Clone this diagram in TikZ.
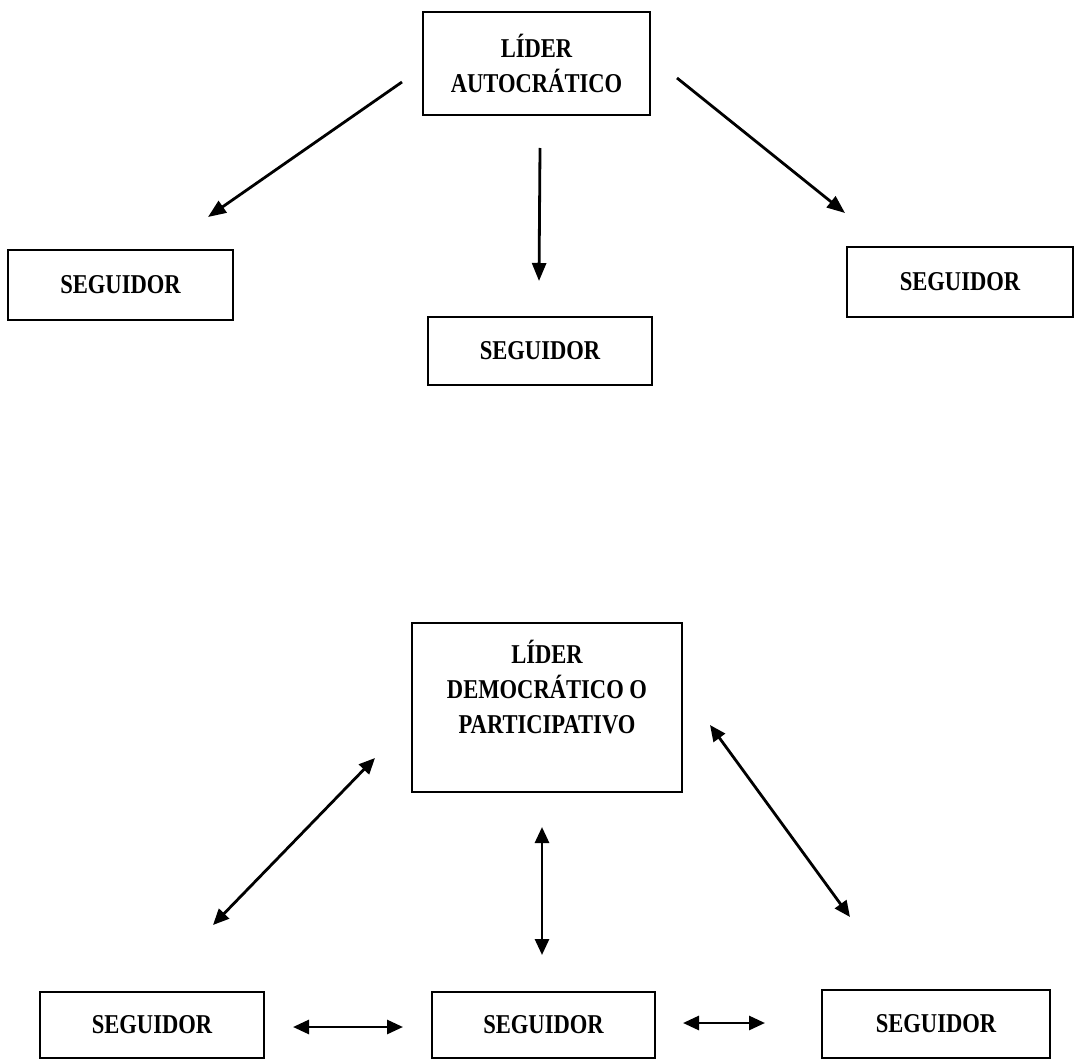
\documentclass[tikz,border=0pt]{standalone}
\usepackage{fontspec}
\newfontfamily\dfont{Liberation Serif}[FakeStretch=0.83]
\usetikzlibrary{arrows.meta}
\tikzset{
  box/.style={draw=black, line width=1pt, fill=white, inner sep=0pt, align=center,
    font=\dfont\bfseries\fontsize{13.6}{17.5}\selectfont},
  conn/.style={line width=1.4pt, -{Triangle[length=9pt,width=7pt]}},
  dconn/.style={line width=1.4pt, {Triangle[length=8pt,width=7pt]}-{Triangle[length=8pt,width=7pt]}},
  txt/.style={inner sep=0pt, align=center, font=\dfont\bfseries\fontsize{13.6}{17.5}\selectfont}
}
\begin{document}
\begin{tikzpicture}[x=0.5pt,y=-0.5pt]
\useasboundingbox (0,0) rectangle (1075,1059);
% top group
\node[box, minimum width=113.5pt, minimum height=51.5pt] (aut) at (536.5,63.5) {LÍDER\\AUTOCRÁTICO};
\node[box, minimum width=112.5pt, minimum height=35pt] (s1) at (120.5,285) {SEGUIDOR};
\node[box, minimum width=112pt, minimum height=34pt] (s2) at (540,351) {SEGUIDOR};
\node[box, minimum width=113pt, minimum height=35pt] (s3) at (960,282) {SEGUIDOR};
\coordinate (a1) at (402,82);  \coordinate (e1) at (208,217);
\coordinate (a2) at (540,148); \coordinate (e2) at (539,281);
\coordinate (a3) at (677,78);  \coordinate (e3) at (845,213);
\draw[conn] (a1) -- (e1);
\draw[conn] (a2) -- (e2);
\draw[conn] (a3) -- (e3);
% bottom group
\node[box, minimum width=135pt, minimum height=84.5pt] (dem) at (547,707.5) {};
\node[txt, anchor=north] (demt) at (547,640) {LÍDER\\DEMOCRÁTICO O\\PARTICIPATIVO};
\node[box, minimum width=112pt, minimum height=33pt] (b1) at (152,1025) {SEGUIDOR};
\node[box, minimum width=111.5pt, minimum height=33pt] (b2) at (543.5,1025) {SEGUIDOR};
\node[box, minimum width=114pt, minimum height=34pt] (b3) at (936,1024) {SEGUIDOR};
\coordinate (d1) at (375,758); \coordinate (f1) at (213,925);
\coordinate (d2) at (542,827); \coordinate (f2) at (542,955);
\coordinate (d3) at (710,725); \coordinate (f3) at (850,917);
\coordinate (h1) at (293,1027); \coordinate (k1) at (403,1027);
\coordinate (h2) at (683,1023); \coordinate (k2) at (765,1023);
\draw[dconn] (d1) -- (f1);
\draw[dconn] (d2) -- (f2);
\draw[dconn] (d3) -- (f3);
\draw[dconn] (h1) -- (k1);
\draw[dconn] (h2) -- (k2);
\end{tikzpicture}
\end{document}
